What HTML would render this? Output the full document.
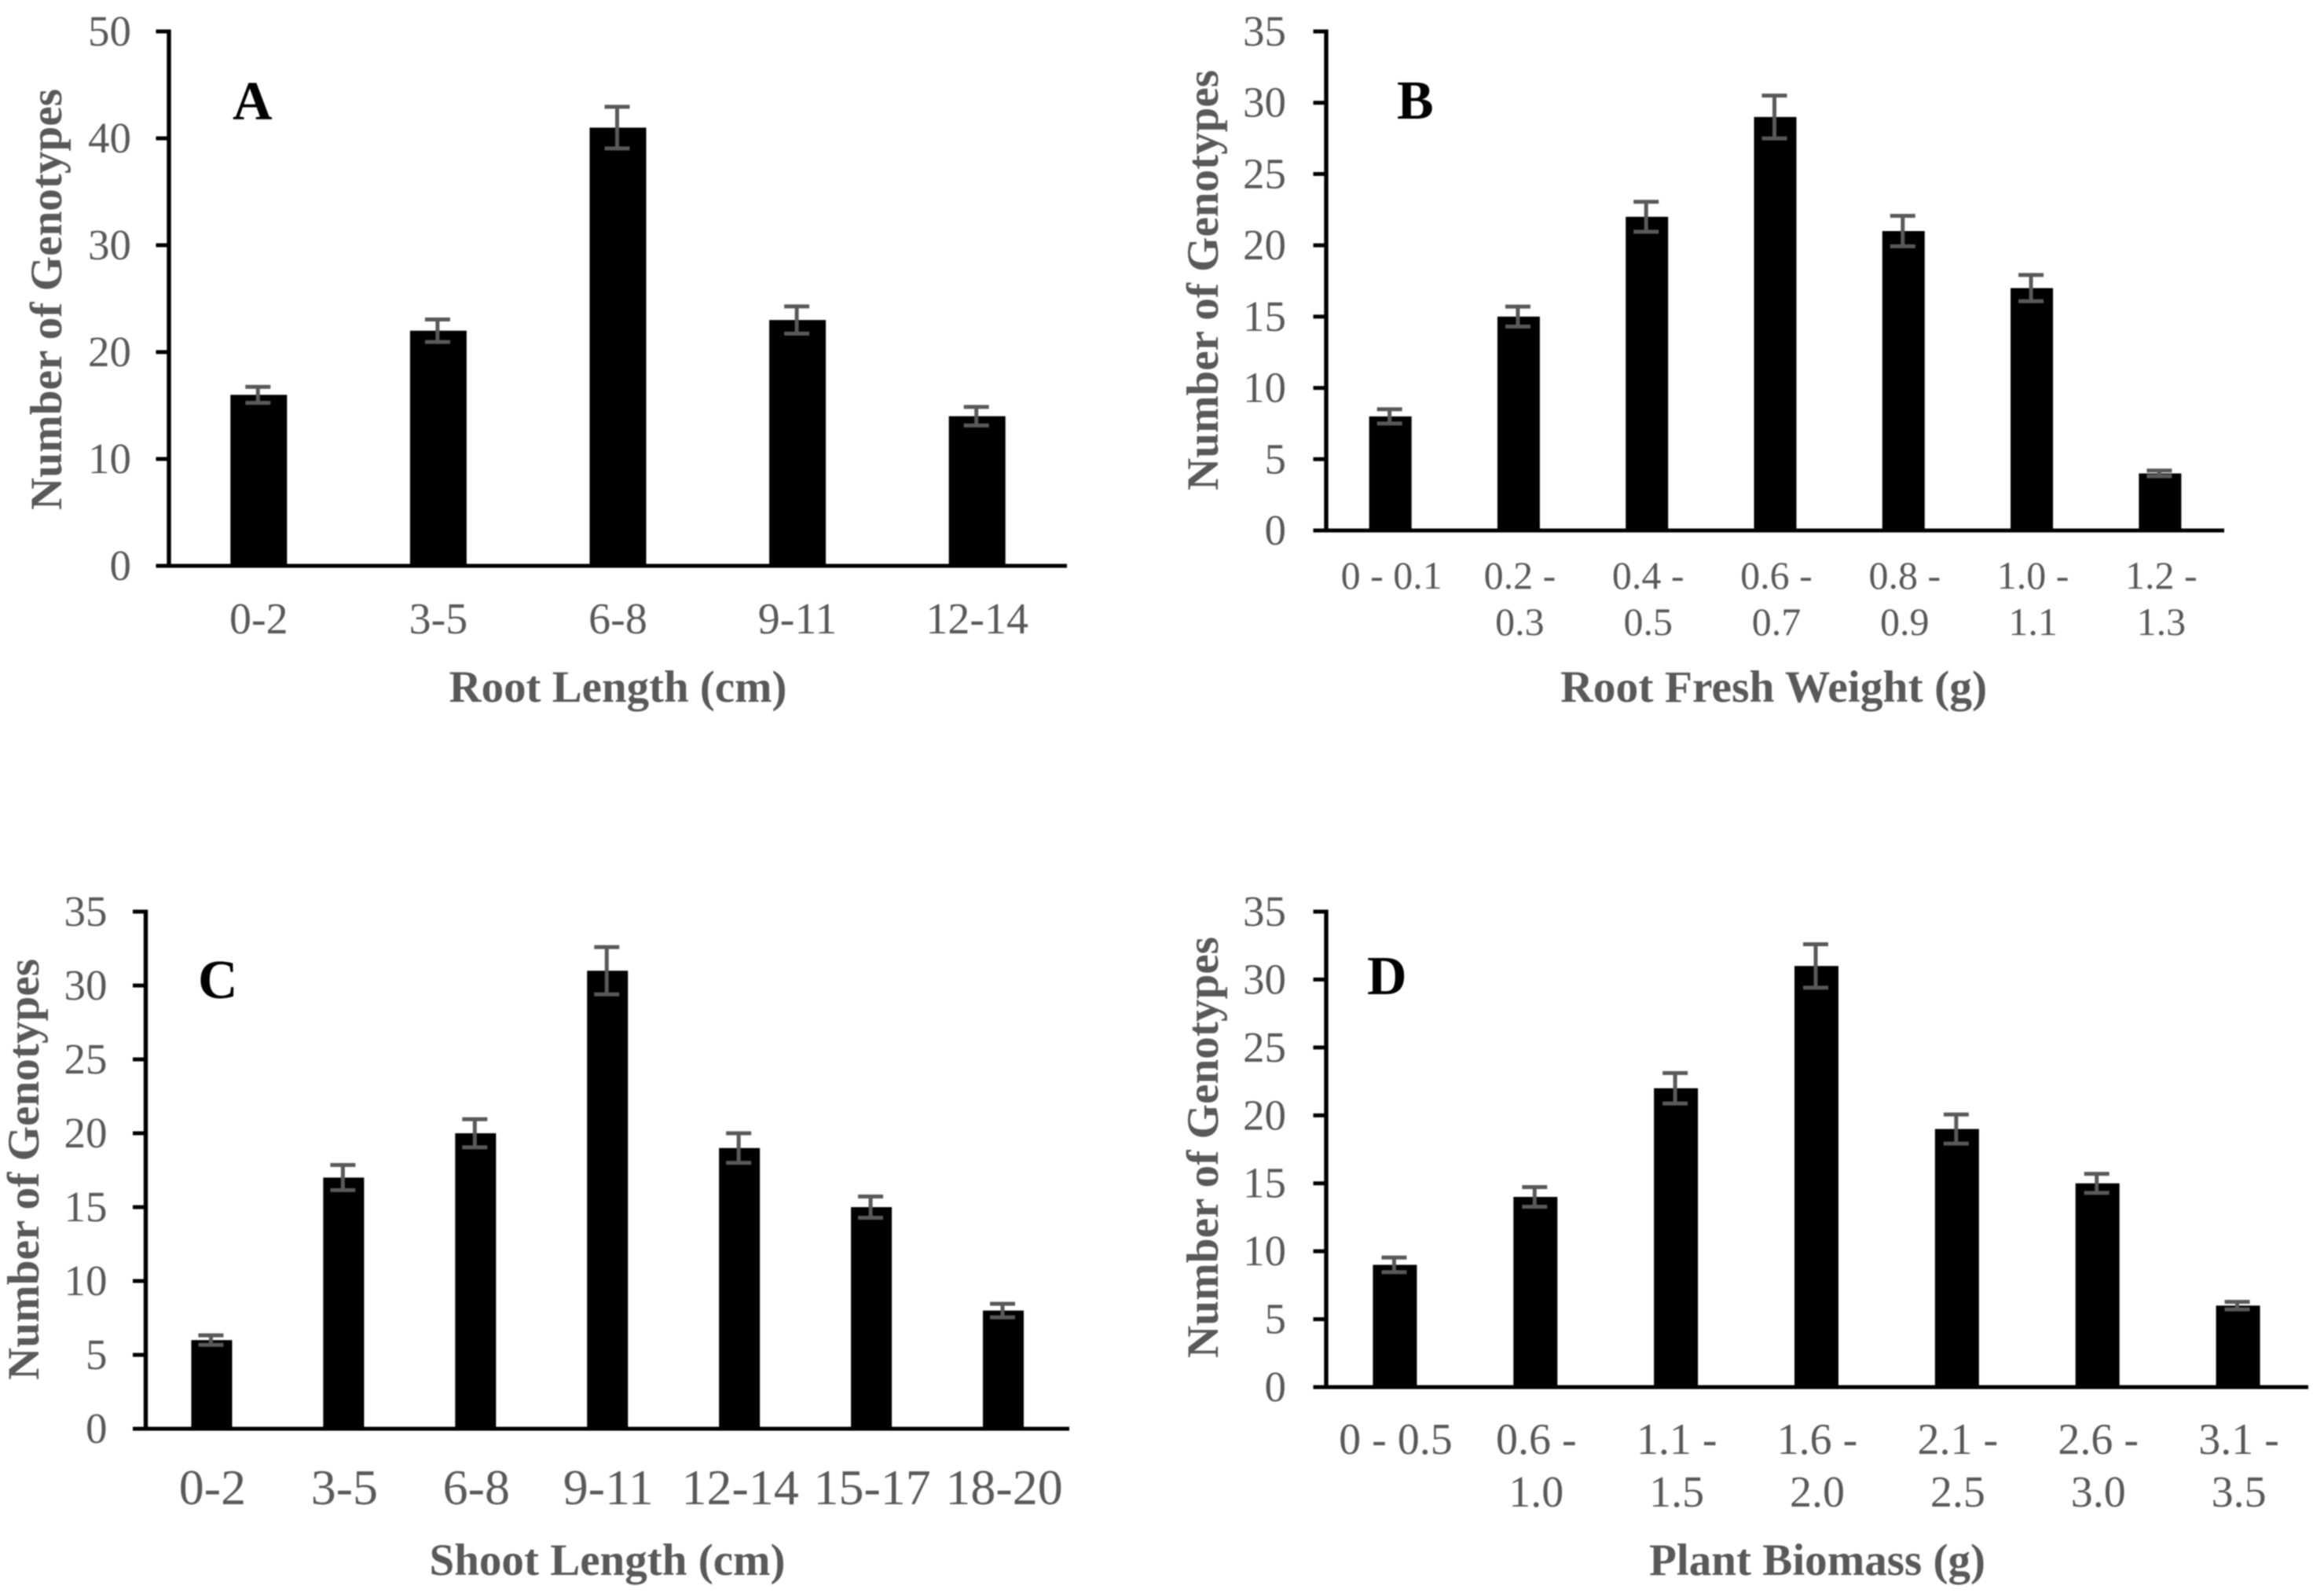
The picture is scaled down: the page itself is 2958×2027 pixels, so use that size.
<!DOCTYPE html>
<html lang="en">
<head>
<meta charset="utf-8">
<title>Genotype distribution histograms</title>
<style>
html,body{margin:0;padding:0;background:#fff;}
svg{display:block;filter:blur(0.7px);}
text{font-family:"Liberation Serif",serif;}
</style>
</head>
<body>
<svg id="figure" xmlns="http://www.w3.org/2000/svg" width="2958" height="2027" viewBox="0 0 2958 2027"></svg>
<script>
const categoriesA = [["0-2"],["3-5"],["6-8"],["9-11"],["12-14"]];
const valuesA = [16,22,41,23,14];
const errorsA = [0.75,1.05,1.95,1.27,0.87];
const ticksA = [0,10,20,30,40,50];

const categoriesB = [["0 - 0.1"],["0.2 -","0.3"],["0.4 -","0.5"],["0.6 -","0.7"],["0.8 -","0.9"],["1.0 -","1.1"],["1.2 -","1.3"]];
const valuesB = [8,15,22,29,21,17,4];
const errorsB = [0.5,0.7,1.05,1.5,1.07,0.92,0.2];
const ticksB = [0,5,10,15,20,25,30,35];

const categoriesC = [["0-2"],["3-5"],["6-8"],["9-11"],["12-14"],["15-17"],["18-20"]];
const valuesC = [6,17,20,31,19,15,8];
const errorsC = [0.32,0.85,0.95,1.6,1.0,0.72,0.46];
const ticksC = [0,5,10,15,20,25,30,35];

const categoriesD = [["0 - 0.5"],["0.6 -","1.0"],["1.1 -","1.5"],["1.6 -","2.0"],["2.1 -","2.5"],["2.6 -","3.0"],["3.1 -","3.5"]];
const valuesD = [9,14,22,31,19,15,6];
const errorsD = [0.54,0.72,1.12,1.6,1.07,0.7,0.28];
const ticksD = [0,5,10,15,20,25,30,35];

const panels = [
  {id:'a',letter:'A',cats:categoriesA,vals:valuesA,errs:errorsA,ticks:ticksA,xTitle:'Root Length (cm)',
   x0:215,bandStart:215,x1:1358,yTop:40,yBot:720,barW:72,tickX:167,tickSize:55,catSize:56,catY:[806],catShift:0,
   xTitleX:786.5,xTitleY:893,xTitleLen:430,yTitleX:78,yTitleY0:649,yTitleLen:536,letterX:296,letterY:152},
  {id:'b',letter:'B',cats:categoriesB,vals:valuesB,errs:errorsB,ticks:ticksB,xTitle:'Root Fresh Weight (g)',
   x0:1688,bandStart:1688,x1:2831,yTop:40,yBot:675,barW:54,tickX:1637,tickSize:55,catSize:50,catY:[749,808],catShift:1.5,
   xTitleX:2257.7,xTitleY:893,xTitleLen:543,yTitleX:1550,yTitleY0:624,yTitleLen:535,letterX:1778,letterY:151},
  {id:'c',letter:'C',cats:categoriesC,vals:valuesC,errs:errorsC,ticks:ticksC,xTitle:'Shoot Length (cm)',
   x0:185.5,bandStart:185.5,x1:1361,yTop:1160,yBot:1818,barW:52,tickX:136.5,tickSize:55,catSize:64,catY:[1914],catShift:1,
   xTitleX:773,xTitleY:2004,xTitleLen:453,yTitleX:49,yTitleY0:1756,yTitleLen:536,letterX:252,letterY:1270},
  {id:'d',letter:'D',cats:categoriesD,vals:valuesD,errs:errorsD,ticks:ticksD,xTitle:'Plant Biomass (g)',
   x0:1688,bandStart:1686,x1:2938,yTop:1160,yBot:1765,barW:56,tickX:1637,tickSize:55,catSize:56,catY:[1850,1917],catShift:1,
   xTitleX:2313,xTitleY:2004,xTitleLen:428,yTitleX:1550,yTitleY0:1728,yTitleLen:536,letterX:1740,letterY:1265}
];

const NS = 'http://www.w3.org/2000/svg';
const GREY = '#595959';
const root = document.getElementById('figure');

function make(parent, tag, attrs, txt) {
  const el = document.createElementNS(NS, tag);
  for (const k in attrs) el.setAttribute(k, attrs[k]);
  if (txt !== undefined) el.textContent = txt;
  parent.appendChild(el);
  return el;
}

panels.forEach(function (p) {
  const maxTick = p.ticks[p.ticks.length - 1];
  const yScale = function (v) { return p.yBot - (v / maxTick) * (p.yBot - p.yTop); };
  const band = (p.x1 - p.bandStart) / p.cats.length;
  const xScale = function (i) { return p.bandStart + band * (i + 0.5); };

  const g = make(root, 'g', {});
  
  

  p.vals.forEach(function (v, i) {
    const bar = make(g, 'rect', {x: xScale(i) - p.barW / 2, y: yScale(v), width: p.barW, height: p.yBot - yScale(v), fill: '#000'});
    
    
  });

  p.errs.forEach(function (e, i) {
    const cx = xScale(i) - 1;
    const hi = yScale(p.vals[i] + e);
    const lo = yScale(p.vals[i] - e);
    const eb = make(g, 'path', {
      d: 'M' + cx + ' ' + hi + 'V' + lo + 'M' + (cx - 16) + ' ' + hi + 'H' + (cx + 16) + 'M' + (cx - 16) + ' ' + lo + 'H' + (cx + 16),
      fill: 'none', stroke: GREY, 'stroke-width': 5
    });
    
    
  });

  const yAxis = make(g, 'line', {x1: p.x0, x2: p.x0, y1: p.yTop - 2.5, y2: p.yBot + 2.5, stroke: '#000', 'stroke-width': 5.4});
  
  

  const xAxis = make(g, 'line', {x1: p.x0 - 16.5, x2: p.x1, y1: p.yBot, y2: p.yBot, stroke: '#000', 'stroke-width': 5});
  
  

  p.ticks.forEach(function (t) {
    const y = yScale(t);
    const mark = make(g, 'line', {x1: p.x0 - 16.5, x2: p.x0, y1: y, y2: y, stroke: '#000', 'stroke-width': 5});
    
    
    const lab = make(g, 'text', {x: p.tickX, y: y + 18, 'text-anchor': 'end', 'font-size': p.tickSize, fill: GREY}, String(t));
    
    
  });

  p.cats.forEach(function (lines, i) {
    lines.forEach(function (line, j) {
      const lab = make(g, 'text', {x: xScale(i) + p.catShift, y: p.catY[j], 'text-anchor': 'middle', 'font-size': p.catSize, fill: GREY}, line);
      
      
    });
  });

  const xt = make(g, 'text', {x: p.xTitleX, y: p.xTitleY, 'text-anchor': 'middle', 'font-size': 57, 'font-weight': 'bold', fill: GREY, textLength: p.xTitleLen, lengthAdjust: 'spacingAndGlyphs'}, p.xTitle);
  
  

  const yt = make(g, 'text', {transform: 'translate(' + p.yTitleX + ' ' + p.yTitleY0 + ') rotate(-90)', x: 0, y: 0, 'font-size': 57, 'font-weight': 'bold', fill: GREY, textLength: p.yTitleLen, lengthAdjust: 'spacingAndGlyphs'}, 'Number of Genotypes');
  
  

  const pl = make(g, 'text', {x: p.letterX, y: p.letterY, 'font-size': 70, 'font-weight': 'bold', fill: '#000'}, p.letter);
  
  
});
</script>
</body>
</html>
